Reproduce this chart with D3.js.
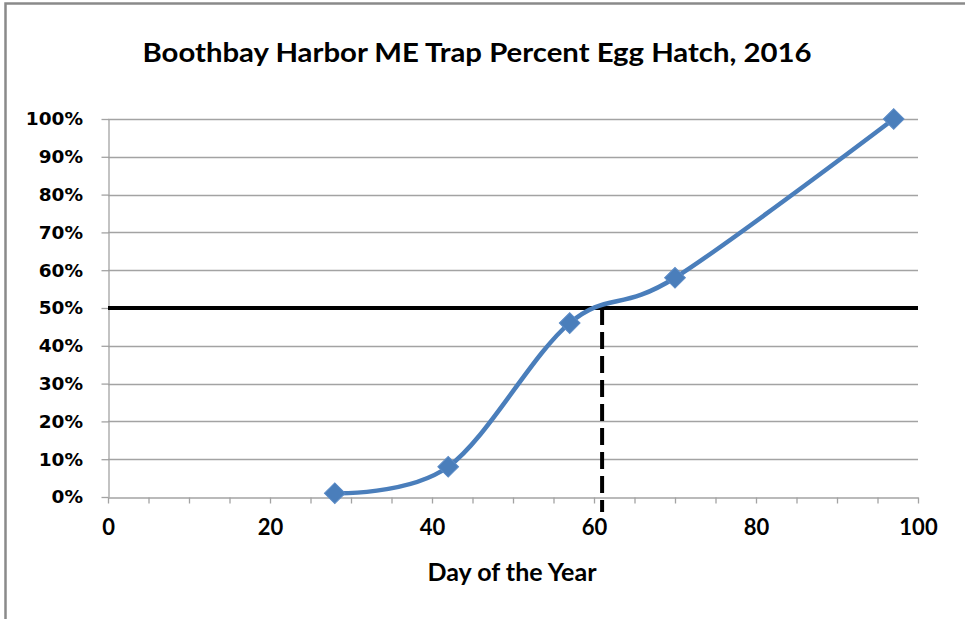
<!DOCTYPE html>
<html>
<head>
<meta charset="utf-8">
<script src="https://cdn.jsdelivr.net/npm/d3@7"></script>
<style>
  body { margin: 0; background: #fff; }
  svg { display: block; }
</style>
</head>
<body>
<div id="chart"></div>
<script>
// data
const days = [28, 42, 57, 70, 97];
const hatch = [0.01, 0.08, 0.46, 0.58, 1.00];
const yTicks = [0, 0.1, 0.2, 0.3, 0.4, 0.5, 0.6, 0.7, 0.8, 0.9, 1.0];
const xMinorTicks = d3.range(0, 101, 5);
const xLabelTicks = [0, 20, 40, 60, 80, 100];
const halfLevel = 0.5;
const halfDay = 61;

const title = "Boothbay Harbor ME Trap Percent Egg Hatch, 2016";
const xTitle = "Day of the Year";

const width = 965, height = 619;
const blue = "#4a7ebb";
const gridColor = "#a3a3a3";

const svg = d3.select("#chart").append("svg")
  .attr("width", width)
  .attr("height", height);

// outer chart border (only left and top show in the picture)
svg.append("rect")
  .attr("x", 5.5).attr("y", 3.5)
  .attr("width", 1200).attr("height", 900)
  .attr("fill", "none")
  .attr("stroke", "#8a8a8a")
  .attr("stroke-width", 2.5);

const x = d3.scaleLinear().domain([0, 100]).range([108, 918]);
const y = d3.scaleLinear().domain([0, 1]).range([497, 119]);

// title
svg.append("text")
  .attr("x", 477).attr("y", 62)
  .attr("text-anchor", "middle")
  .attr("font-family", "Lato, 'Open Sans', sans-serif")
  .attr("font-weight", "bold")
  .attr("font-size", 26)
  .attr("textLength", 669)
  .attr("lengthAdjust", "spacingAndGlyphs")
  .text(title);

// horizontal gridlines
svg.append("g")
  .selectAll("line")
  .data(yTicks.filter(d => d > 0))
  .enter()
  .append("line")
  .attr("x1", x(0)).attr("x2", x(100))
  .attr("y1", d => Math.round(y(d)) + 0.5)
  .attr("y2", d => Math.round(y(d)) + 0.5)
  .attr("stroke", gridColor)
  .attr("stroke-width", 1.3);

// y axis
const yAxis = svg.append("g")
  .attr("transform", "translate(" + (x(0) + 0.5) + ",0)")
  .call(d3.axisLeft(y)
    .tickValues(yTicks)
    .tickFormat(d3.format(".0%"))
    .tickSize(7)
    .tickSizeOuter(0)
    .tickPadding(18.5));
yAxis.selectAll("path, line").attr("stroke", gridColor).attr("stroke-width", 1.3);
yAxis.selectAll("text")
  .attr("font-family", "'DejaVu Sans', sans-serif")
  .attr("font-weight", "bold")
  .attr("font-size", 18.5)
  .attr("fill", "#000");

// x axis
const xAxis = svg.append("g")
  .attr("transform", "translate(0," + (y(0) + 0.5) + ")")
  .call(d3.axisBottom(x)
    .tickValues(xMinorTicks)
    .tickFormat(d => xLabelTicks.includes(d) ? d : "")
    .tickSize(6)
    .tickSizeOuter(0)
    .tickPadding(16));
xAxis.selectAll("path, line").attr("stroke", gridColor).attr("stroke-width", 1.3);
xAxis.selectAll("text")
  .attr("font-family", "Lato, sans-serif")
  .attr("font-weight", "bold")
  .attr("font-size", 22)
  .attr("fill", "#000");

// x axis title
svg.append("text")
  .attr("x", 512).attr("y", 581)
  .attr("text-anchor", "middle")
  .attr("font-family", "Lato, sans-serif")
  .attr("font-weight", "bold")
  .attr("font-size", 24)
  .attr("textLength", 169)
  .attr("lengthAdjust", "spacingAndGlyphs")
  .text(xTitle);

// 50% reference line
svg.append("line")
  .attr("x1", x(0)).attr("x2", x(100))
  .attr("y1", y(halfLevel)).attr("y2", y(halfLevel))
  .attr("stroke", "#000")
  .attr("stroke-width", 3.8);

// dashed drop line at the 50% day
svg.append("line")
  .attr("x1", x(halfDay)).attr("x2", x(halfDay))
  .attr("y1", y(halfLevel)).attr("y2", y(0) + 15)
  .attr("stroke", "#000")
  .attr("stroke-width", 4)
  .attr("stroke-dasharray", "17,7");

// smoothed series line
const points = days.map((d, i) => [d, hatch[i]]);
const line = d3.line()
  .x(d => x(d[0]))
  .y(d => y(d[1]))
  .curve(d3.curveCardinal.tension(0));

svg.append("path")
  .datum(points)
  .attr("d", line)
  .attr("fill", "none")
  .attr("stroke", blue)
  .attr("stroke-width", 4.5)
  .attr("stroke-linecap", "round");

// diamond markers
const diamond = d3.symbol().type(d3.symbolSquare).size(215);
svg.append("g")
  .selectAll("path")
  .data(points)
  .enter()
  .append("path")
  .attr("d", diamond)
  .attr("transform", d => "translate(" + x(d[0]) + "," + y(d[1]) + ") rotate(45)")
  .attr("fill", blue)
  .attr("stroke", "#5a8ac6")
  .attr("stroke-width", 1);
</script>
</body>
</html>
